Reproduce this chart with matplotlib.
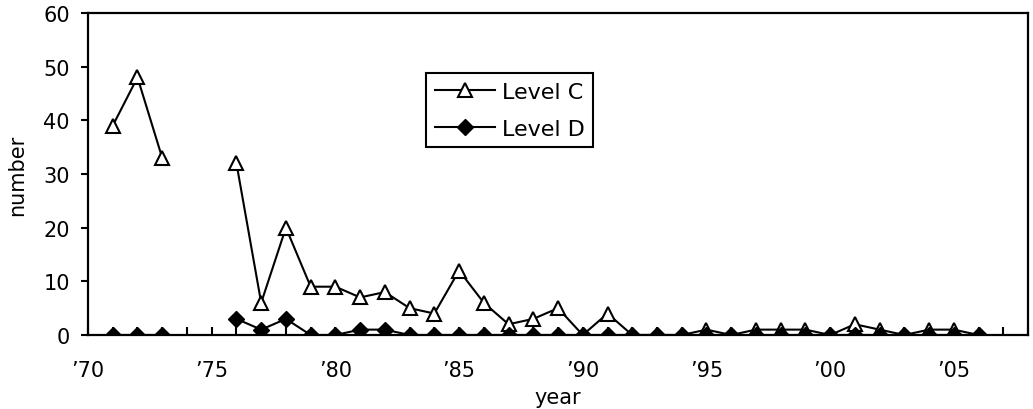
import matplotlib.pyplot as plt
import numpy as np

plt.rcParams['font.family'] = ['DejaVu Sans']

# data: years 1971-2006, no survey in '74 and '75
years = np.arange(1971, 2007)
level_c = [39, 48, 33, np.nan, np.nan, 32, 6, 20, 9, 9, 7, 8, 5, 4, 12, 6, 2, 3, 5, 0,
           4, 0, 0, 0, 1, 0, 1, 1, 1, 0, 2, 1, 0, 1, 1, 0]
level_d = [0, 0, 0, np.nan, np.nan, 3, 1, 3, 0, 0, 1, 1, 0, 0, 0, 0, 0, 0, 0, 0,
           0, 0, 0, 0, 0, 0, 0, 0, 0, 0, 0, 0, 0, 0, 0, 0]
tick_years = np.arange(1970, 2009)
label_years = [1970, 1975, 1980, 1985, 1990, 1995, 2000, 2005]

fig = plt.figure(figsize=(10.33, 4.10), dpi=100)
ax = fig.add_axes([0.0852, 0.1805, 0.9100, 0.7854])

ax.plot(years, level_c, color='black', lw=1.5, marker='^', ms=10,
        mfc='white', mec='black', mew=1.5, label='Level C')
ax.plot(years, level_d, color='black', lw=1.5, marker='D', ms=8.5,
        mfc='black', mec='black', label='Level D')

ax.set_xlim(1970, 2008)
ax.set_ylim(0, 60)

ax.set_xticks(tick_years)
ax.set_xticklabels(["\u2019%02d" % (y % 100) if y in label_years else '' for y in tick_years])
ax.set_yticks(np.arange(0, 61, 10))

ax.tick_params(axis='x', direction='in', length=6, width=1.5, labelsize=15, pad=18)
ax.tick_params(axis='y', direction='out', length=5, width=1.5, labelsize=15, pad=8)

for s in ax.spines.values():
    s.set_linewidth(1.6)

ax.set_xlabel('year', fontsize=15, labelpad=5)
ax.set_ylabel('number', fontsize=15, labelpad=12)

leg = ax.legend(loc='upper left', bbox_to_anchor=(0.3596, 0.8137), fontsize=16,
                frameon=True, fancybox=False, edgecolor='black', framealpha=1,
                handlelength=2.7, handletextpad=0.3, borderpad=0.4, labelspacing=0.75,
                borderaxespad=0)
leg.get_frame().set_linewidth(1.5)

fig.savefig('out.png', dpi=100)
